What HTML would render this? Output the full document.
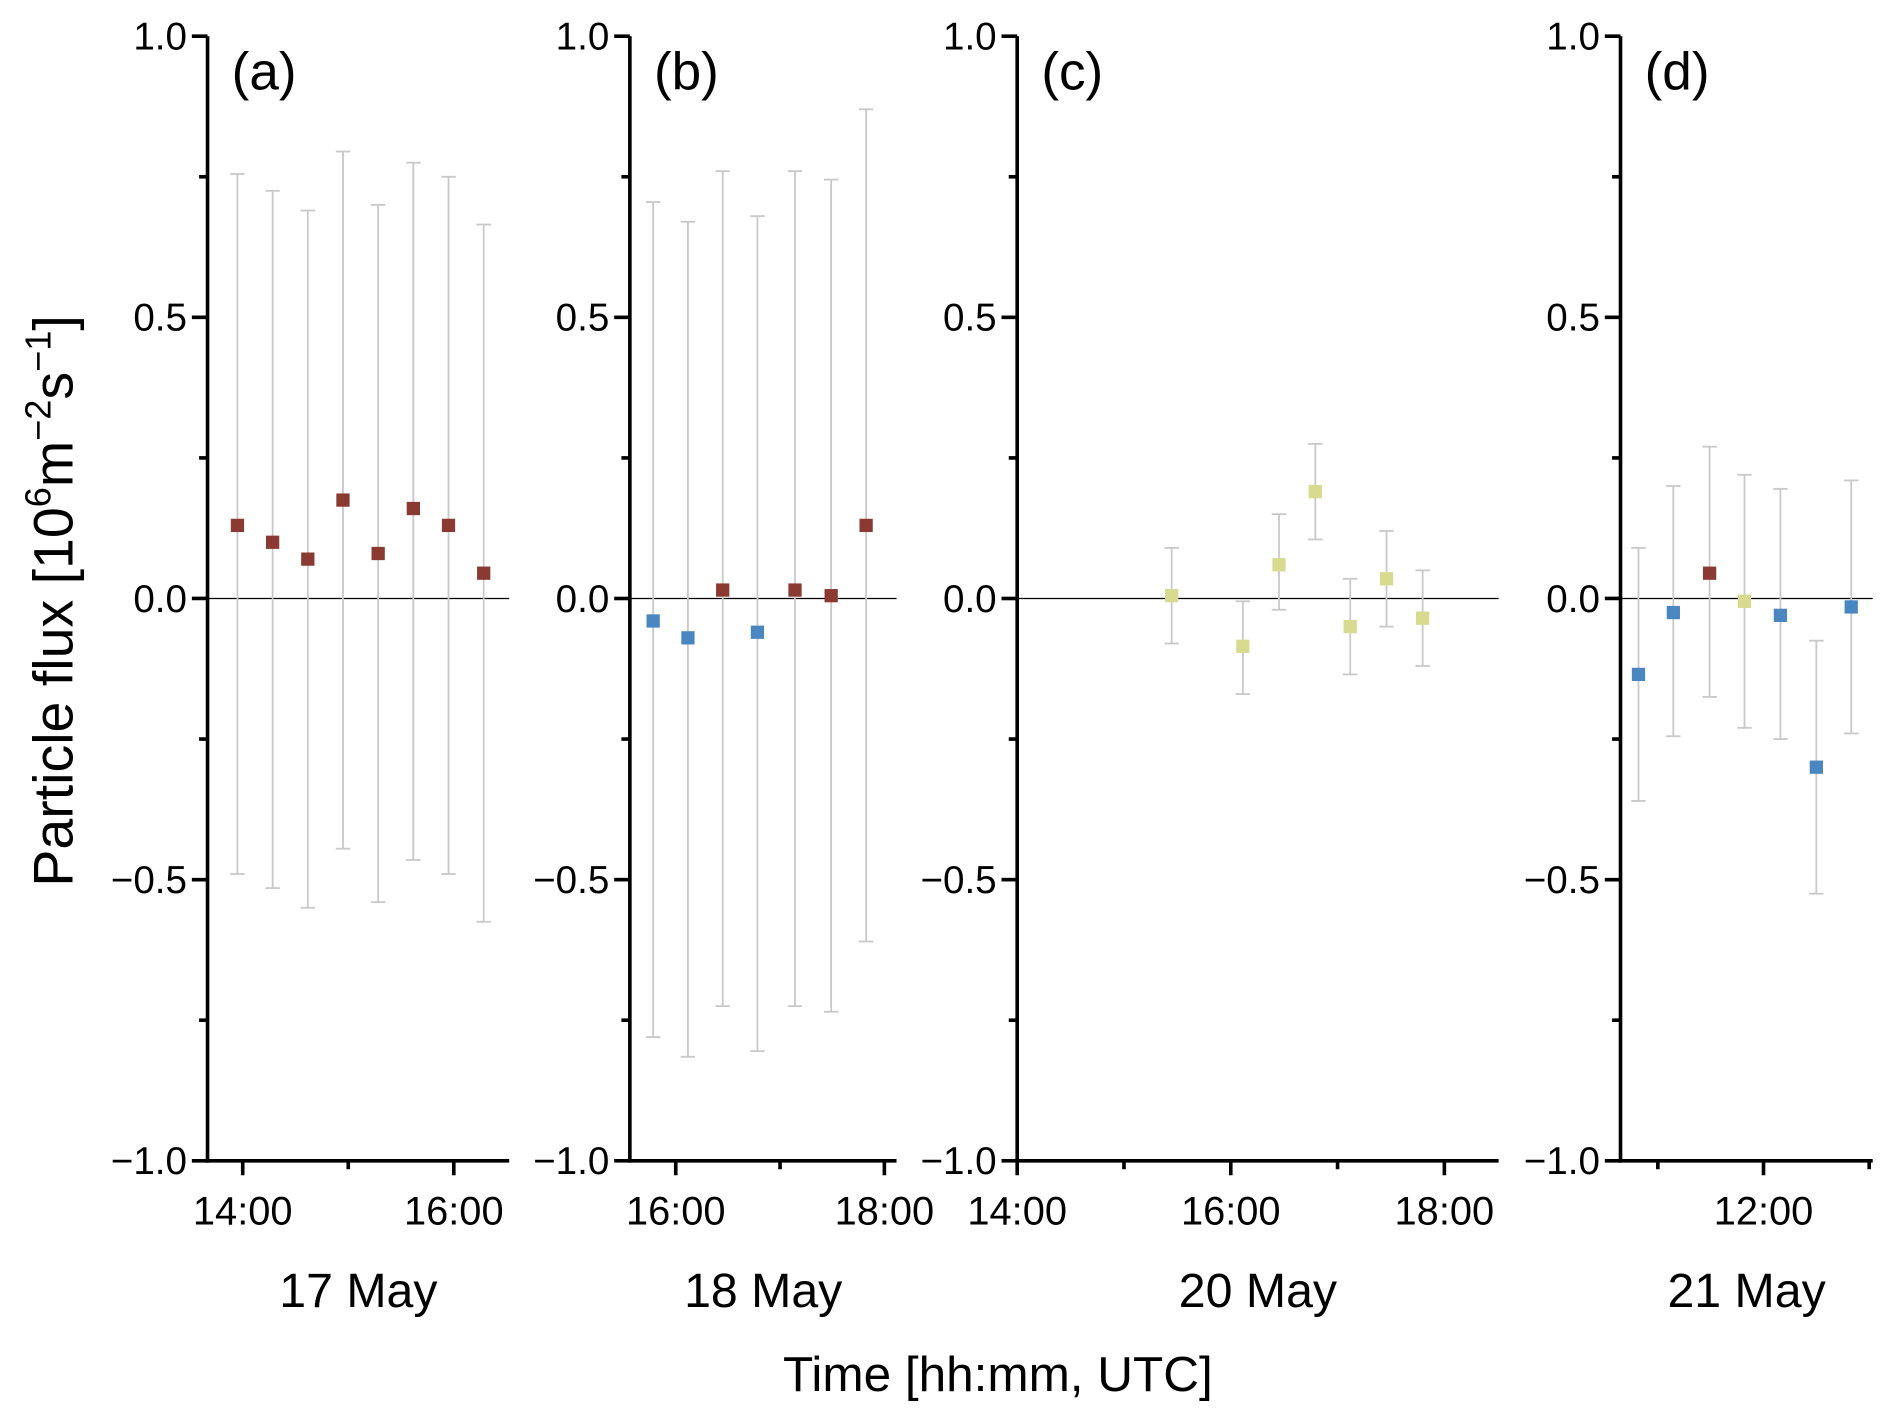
<!DOCTYPE html>
<html><head><meta charset="utf-8"><style>
html,body{margin:0;padding:0;background:#fff}
svg{display:block}
text{font-family:"Liberation Sans",Arial,sans-serif;fill:#000}
</style></head><body>
<svg id="chart" width="1892" height="1419" viewBox="0 0 1568 1176" xmlns="http://www.w3.org/2000/svg">
<text transform="translate(60,498) rotate(-90)" text-anchor="middle" font-size="46">Particle flux [10<tspan font-size="30" dy="-18">6</tspan><tspan dy="18">m</tspan><tspan font-size="30" dy="-18">−2</tspan><tspan dy="18">s</tspan><tspan font-size="30" dy="-18">−1</tspan><tspan dy="18">]</tspan></text>
<text x="827" y="1153" text-anchor="middle" font-size="41">Time [hh:mm, UTC]</text>
</svg>
<script>
const yTicks=[-1,-0.5,0,0.5,1];
const yTickLabels=["−1.0","−0.5","0.0","0.5","1.0"];
const yMinor=[-0.75,-0.25,0.25,0.75];
// panel a (times in minutes of day)
const aTimes=[837,857,877,897,917,937,957,977];
const aVals=[0.13,0.10,0.07,0.175,0.08,0.16,0.13,0.045];
const aTop=[0.755,0.725,0.69,0.795,0.70,0.775,0.75,0.665];
const aBot=[-0.49,-0.515,-0.55,-0.445,-0.54,-0.465,-0.49,-0.575];
const aCls=["r","r","r","r","r","r","r","r"];
// panel b
const bTimes=[947,967,987,1007,1028.6,1049.4,1069.5];
const bVals=[-0.04,-0.07,0.015,-0.06,0.015,0.005,0.13];
const bTop=[0.705,0.67,0.76,0.68,0.76,0.745,0.87];
const bBot=[-0.78,-0.815,-0.725,-0.805,-0.725,-0.735,-0.61];
const bCls=["b","b","r","b","r","r","r"];
// panel c
const cTimes=[926.8,966.8,987.1,1007.5,1027.1,1047.5,1067.8];
const cVals=[0.005,-0.085,0.06,0.19,-0.05,0.035,-0.035];
const cTop=[0.09,-0.005,0.15,0.275,0.035,0.12,0.05];
const cBot=[-0.08,-0.17,-0.02,0.105,-0.135,-0.05,-0.12];
const cCls=["y","y","y","y","y","y","y"];
// panel d
const dTimes=[684.5,694.4,704.7,714.6,724.8,735,744.9];
const dVals=[-0.135,-0.025,0.045,-0.005,-0.03,-0.3,-0.015];
const dTop=[0.09,0.2,0.27,0.22,0.195,-0.075,0.21];
const dBot=[-0.36,-0.245,-0.175,-0.23,-0.25,-0.525,-0.24];
const dCls=["b","b","r","y","b","b","b"];
const colors={r:"#8b3a33",b:"#4a87c0",y:"#d7da8f"};

const panels=[
 {id:"a",label:"(a)",date:"17 May",x0:172,x1:422,t0:820,t1:991.5,major:[840,960],majLab:["14:00","16:00"],minor:[900],times:aTimes,vals:aVals,top:aTop,bot:aBot,cls:aCls},
 {id:"b",label:"(b)",date:"18 May",x0:522,x1:743,t0:933.6,t1:1087,major:[960,1080],majLab:["16:00","18:00"],minor:[1020],times:bTimes,vals:bVals,top:bTop,bot:bBot,cls:bCls},
 {id:"c",label:"(c)",date:"20 May",x0:843,x1:1242,t0:840,t1:1110.5,major:[840,960,1080],majLab:["14:00","16:00","18:00"],minor:[900,1020],times:cTimes,vals:cVals,top:cTop,bot:cBot,cls:cCls},
 {id:"d",label:"(d)",date:"21 May",x0:1343,x1:1552,t0:679.4,t1:751,major:[720],majLab:["12:00"],minor:[690,750],times:dTimes,vals:dVals,top:dTop,bot:dBot,cls:dCls}
];
const svg=document.getElementById('chart');
const NS="http://www.w3.org/2000/svg";
function mk(tag,attrs,parent){const e=document.createElementNS(NS,tag);for(const k in attrs)e.setAttribute(k,attrs[k]);(parent||svg).appendChild(e);return e;}
const yTop=30,yBot=962;
function ys(v){return yTop+(1-v)/2*(yBot-yTop);}
panels.forEach(p=>{
 const g=mk('g',{});
 
 
 const xs=t=>p.x0+(t-p.t0)/(p.t1-p.t0)*(p.x1-p.x0);
 const z=mk('line',{x1:p.x0,x2:p.x1,y1:ys(0),y2:ys(0),stroke:"#000","stroke-width":1},g);
 
 
 p.times.forEach((t,i)=>{
  const x=xs(t);
  const eb=mk('g',{stroke:"#c9c9c9","stroke-width":1.5},g);
  
  
  mk('line',{x1:x,x2:x,y1:ys(p.top[i]),y2:ys(p.bot[i])},eb);
  mk('line',{x1:x-6,x2:x+6,y1:ys(p.top[i]),y2:ys(p.top[i])},eb);
  mk('line',{x1:x-6,x2:x+6,y1:ys(p.bot[i]),y2:ys(p.bot[i])},eb);
  const r=mk('rect',{x:x-5.5,y:ys(p.vals[i])-5.5,width:11,height:11,fill:colors[p.cls[i]]},g);
  
  
 });
 const ax=mk('g',{stroke:"#000","stroke-width":3},g);
 
 
 mk('line',{x1:p.x0,x2:p.x0,y1:yTop,y2:yBot+1.5},ax);
 mk('line',{x1:p.x0-1.5,x2:p.x1,y1:yBot,y2:yBot},ax);
 yTicks.forEach(v=>mk('line',{x1:p.x0-13,x2:p.x0,y1:ys(v),y2:ys(v)},ax));
 yMinor.forEach(v=>mk('line',{x1:p.x0-7,x2:p.x0,y1:ys(v),y2:ys(v)},ax));
 p.major.forEach(t=>mk('line',{x1:xs(t),x2:xs(t),y1:yBot,y2:yBot+12},ax));
 p.minor.forEach(t=>mk('line',{x1:xs(t),x2:xs(t),y1:yBot,y2:yBot+7},ax));
 yTicks.forEach((v,i)=>{
  const tx=mk('text',{x:p.x0-17,y:ys(v)+11,"text-anchor":"end","font-size":32},g);
  tx.textContent=yTickLabels[i];
  
  
 });
 p.major.forEach((t,i)=>{
  const tx=mk('text',{x:xs(t),y:1015,"text-anchor":"middle","font-size":33},g);
  tx.textContent=p.majLab[i];
  
  
 });
 const lb=mk('text',{x:p.x0+20,y:74,"font-size":44},g);
 lb.textContent=p.label;
 
 
 const dt=mk('text',{x:(p.x0+p.x1)/2,y:1083,"text-anchor":"middle","font-size":40},g);
 dt.textContent=p.date;
 
 
});
</script>
</body></html>
